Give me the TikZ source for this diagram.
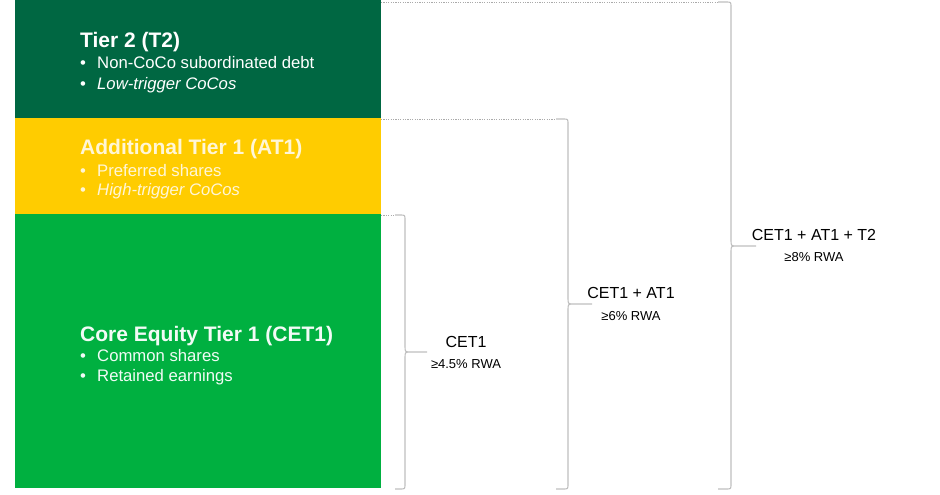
\documentclass[tikz,border=0pt]{standalone}
\usepackage{fontspec}
\setmainfont{Liberation Sans}
\definecolor{tiertwo}{RGB}{0,103,66}
\definecolor{ataone}{RGB}{255,204,0}
\definecolor{cetone}{RGB}{0,176,64}
\definecolor{bracegray}{RGB}{190,190,190}
\definecolor{dotgray}{RGB}{170,170,170}
\definecolor{cream}{RGB}{255,246,215}
\tikzset{
  tierbox/.style={draw=none, inner sep=0pt, outer sep=0pt},
  ttl/.style={anchor=base west, inner sep=0pt, font=\fontsize{21}{25}\selectfont\bfseries},
  bul/.style={anchor=base west, inner sep=0pt, font=\fontsize{16.7}{20}\selectfont},
  lbla/.style={anchor=base, inner sep=0pt, font=\fontsize{16}{19}\selectfont},
  lblb/.style={anchor=base, inner sep=0pt, font=\fontsize{13}{16}\selectfont},
  bracket/.style={draw=bracegray, line width=1.1pt, line join=round},
  dotline/.style={draw=dotgray, line width=0.7pt, dash pattern=on 1.2pt off 1.2pt}
}
% #1 hook x, #2 top y, #3 bottom y, #4 mid y, #5 hook length (to stem), #6 tip length
\newcommand\mybrace[6]{%
  \draw[bracket] (#1,#2) -- ({#1+#5-5},#2) .. controls ({#1+#5},#2) .. ({#1+#5},{#2+5})
    -- ({#1+#5},{#4-6}) .. controls ({#1+#5},#4) .. ({#1+#5+6},#4) -- ({#1+#5+#6},#4)
    ({#1+#5+6},#4) .. controls ({#1+#5},#4) .. ({#1+#5},{#4+6})
    -- ({#1+#5},{#3-5}) .. controls ({#1+#5},#3) .. ({#1+#5-5},#3) -- (#1,#3);}
\begin{document}
\begin{tikzpicture}[x=1pt, y=-1pt]
\useasboundingbox (0,0) rectangle (940,495);
% boxes
\fill[tiertwo] (15,0) rectangle (381,118);
\fill[ataone] (15,118) rectangle (381,214);
\fill[cetone] (15,214) rectangle (381,488);
\node[tierbox] (t2box) at (198,59) {};
\node[tierbox] (at1box) at (198,166) {};
\node[tierbox] (cetbox) at (198,351) {};
% Tier 2 text
\node[ttl, text=white] (t2t) at (80,48) {Tier 2 (T2)};
\node[bul, text=white] (t2b1d) at (80,69) {•};
\node[bul, text=white] (t2b1) at (97,69) {Non-CoCo subordinated debt};
\node[bul, text=white] (t2b2d) at (80,89) {•};
\node[bul, text=white] (t2b2) at (97,89) {\itshape Low-trigger CoCos};
% AT1 text
\node[ttl, text=cream] (at1t) at (80,154) {Additional Tier 1 (AT1)};
\node[bul, text=cream] (at1b1d) at (80,176) {•};
\node[bul, text=cream] (at1b1) at (97,176) {Preferred shares};
\node[bul, text=cream] (at1b2d) at (80,195) {•};
\node[bul, text=cream] (at1b2) at (97,195) {\itshape High-trigger CoCos};
% CET1 text
\node[ttl, text=white!95!cetone] (cett) at (80,341) {Core Equity Tier 1 (CET1)};
\node[bul, text=white!95!cetone] (cetb1d) at (80,361) {•};
\node[bul, text=white!95!cetone] (cetb1) at (97,361) {Common shares};
\node[bul, text=white!95!cetone] (cetb2d) at (80,381) {•};
\node[bul, text=white!95!cetone] (cetb2) at (97,381) {Retained earnings};
% coordinates for guide lines
\coordinate (d1s) at (381,215);
\coordinate (b1t) at (395,215);
\coordinate (d2s) at (381,119);
\coordinate (b2t) at (556,119);
\coordinate (d3s) at (381,2);
\coordinate (b3t) at (718,2);
% dotted guide lines
\draw[dotline] (d1s) -- (b1t);
\draw[dotline] (d2s) -- (b2t);
\draw[dotline] (d3s) -- (b3t);
% brackets
\mybrace{395}{215}{489}{352}{10}{22}
\mybrace{556}{119}{489}{304}{12}{24}
\mybrace{718}{2}{489}{246}{13}{25}
% labels
\node[lbla] (l1a) at (466,347) {CET1};
\node[lblb] (l1b) at (466,368) {≥4.5\% RWA};
\node[lbla] (l2a) at (631,298) {CET1 + AT1};
\node[lblb] (l2b) at (631,320) {≥6\% RWA};
\node[lbla] (l3a) at (814,240) {CET1 + AT1 + T2};
\node[lblb] (l3b) at (814,261) {≥8\% RWA};
\end{tikzpicture}
\end{document}
